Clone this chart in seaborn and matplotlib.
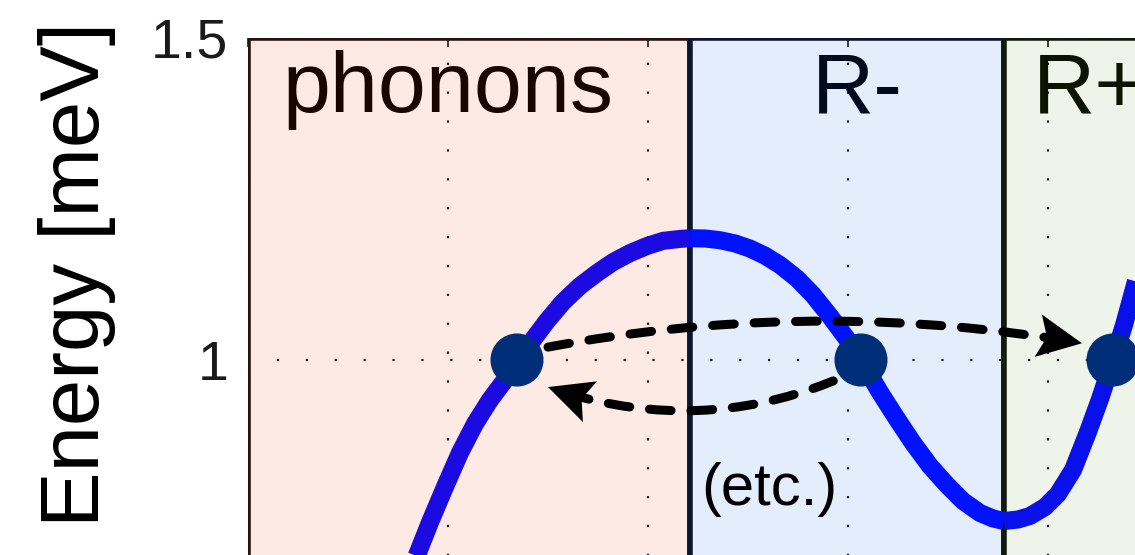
import numpy as np
import pandas as pd
import matplotlib
matplotlib.use("Agg")
import matplotlib.pyplot as plt
from matplotlib.patches import FancyArrowPatch, Polygon
from matplotlib.transforms import IdentityTransform
from matplotlib.ticker import FuncFormatter
import seaborn as sns

# Excitation branches: wavevector k [1/Å] and energy E [meV]
phonon_k = [0.3925, 0.4225, 0.455, 0.4925, 0.53, 0.5675, 0.605, 0.64, 0.6725, 0.71, 0.7475,
            0.7875, 0.83, 0.8725, 0.9125, 0.955, 0.9975, 1.0375, 1.08, 1.105]
phonon_E = [0.649, 0.697, 0.748, 0.803, 0.856, 0.901, 0.938, 0.967, 1.0, 1.0295, 1.0606,
            1.090, 1.115, 1.135, 1.152, 1.166, 1.177, 1.185, 1.188, 1.189]
rminus_k = [1.105, 1.1425, 1.18, 1.2175, 1.255, 1.2925, 1.33, 1.3725, 1.4125, 1.455, 1.4975,
            1.5325, 1.58, 1.6225, 1.6625, 1.705, 1.7475, 1.7875, 1.83, 1.8625, 1.89]
rminus_E = [1.189, 1.1887, 1.186, 1.181, 1.173, 1.162, 1.1475, 1.1266, 1.101, 1.068, 1.0326,
            1.0, 0.9497, 0.9084, 0.8711, 0.8354, 0.8059, 0.781, 0.7624, 0.7539, 0.750]
rplus_k = [1.89, 1.925, 1.955, 1.9925, 2.025, 2.0625, 2.1, 2.13, 2.1625, 2.19, 2.2175, 2.2425]
rplus_E = [0.750, 0.7523, 0.7578, 0.7717, 0.7919, 0.8292, 0.8882, 0.9394, 1.0, 1.0543,
           1.1165, 1.171]

# three excitations with the same energy
state_k = [0.6725, 1.5325, 2.1625]
state_E = [1.0, 1.0, 1.0]

region_names = ["phonons", "R-", "R+"]
region_bounds = [0.0, 1.105, 1.89, 2.5]

x_ticks = [0, 0.5, 1, 1.5, 2, 2.5]
y_ticks = [0, 0.5, 1, 1.5]

face_colors = ["#fdeae4", "#e4edfb", "#eff4ea"]
edge_colors = ["#2b1208", "#0b1530", "#111a0c"]
label_colors = ["#1a0600", "#000a1c", "#0a1400"]
line_colors = ["#1c0ae2", "#0012ff", "#0a10ea"]
dot_color = "#002e78"

sns.set_theme(style="white")
plt.rcParams["font.family"] = ["Liberation Sans", "DejaVu Sans"]

W, H, DPI = 1135, 555, 100
fig = plt.figure(figsize=(W / DPI, H / DPI), dpi=DPI)

# axes box in pixels: left edge, top edge, scale per unit on each axis
left_px, top_px = 248, 38
xpx, ypx = 400, 644
xlim = (0.0, 2.5)
ylim = (0.0, 1.5)
w_px = xpx * (xlim[1] - xlim[0])
h_px = ypx * (ylim[1] - ylim[0])
ax = fig.add_axes([left_px / W, 1 - (top_px + h_px) / H, w_px / W, h_px / H])
ax.set_xlim(*xlim)
ax.set_ylim(*ylim)

for i, name in enumerate(region_names):
    ax.axvspan(region_bounds[i], region_bounds[i + 1], facecolor=face_colors[i],
               edgecolor=edge_colors[i], lw=4.0, zorder=0.8)

ax.set_axisbelow("line")
ax.grid(True, color="k", linestyle=(0, (1, 12)), lw=1.6)
ax.set_xticks(x_ticks)
ax.set_yticks(y_ticks)
ax.yaxis.set_major_formatter(FuncFormatter(lambda v, _: f"{v:g}"))
ax.tick_params(direction="in", length=6.5, width=1.2, top=True, right=True,
               labelsize=40, pad=14, colors="k")
for s in ax.spines.values():
    s.set_visible(False)

curve = pd.DataFrame({
    "k": phonon_k + rminus_k + rplus_k,
    "E": phonon_E + rminus_E + rplus_E,
    "branch": [region_names[0]] * len(phonon_k) + [region_names[1]] * len(rminus_k)
              + [region_names[2]] * len(rplus_k),
})
sns.lineplot(data=curve, x="k", y="E", hue="branch", hue_order=region_names,
             palette=dict(zip(region_names, line_colors)), linewidth=13,
             estimator=None, sort=False, legend=False, ax=ax, zorder=3,
             solid_capstyle="butt", solid_joinstyle="round")

sns.scatterplot(x=state_k, y=state_E, s=38.2 ** 2, color=dot_color, edgecolor="none",
                linewidth=0, legend=False, ax=ax, zorder=5)

pt = fig.dpi / 72.0


def dashed_arrow(A, B, rad, offset):
    head_len, head_w = 32.0, 15.5
    ax.add_patch(FancyArrowPatch(A, B, connectionstyle=f"arc3,rad={rad}", arrowstyle="-",
                                 shrinkA=0, shrinkB=0.8 * head_len, lw=6.5, color="black",
                                 linestyle=(offset, (2.4, 2.2)), zorder=4))
    pA, pB = ax.transData.transform([A, B])
    d = pB - pA
    c = (pA + pB) / 2 + rad * np.array([d[1], -d[0]])
    u = (pB - c) / np.linalg.norm(pB - c)
    n = np.array([-u[1], u[0]])
    L, Wd = head_len * pt, head_w * pt
    pts = [pB, pB - L * u + Wd * n, pB - 0.8 * L * u, pB - L * u - Wd * n]
    ax.add_patch(Polygon(pts, closed=True, facecolor="black", edgecolor="none",
                         transform=IdentityTransform(), zorder=4.5))


# phonon -> R+ and R- -> phonon transitions
dashed_arrow((0.75, 1.020), (2.085, 1.026), -0.09, 0.0)
dashed_arrow((1.4925, 0.975), (0.75, 0.958), -0.195, 3.2)

ax.text(0.085, 1.385, region_names[0], fontsize=62, color=label_colors[0], ha="left", va="baseline")
ax.text(1.5225, 1.384, region_names[1], fontsize=62, color=label_colors[1], ha="center", va="baseline")
ax.text(1.9625, 1.384, region_names[2], fontsize=62, color=label_colors[2], ha="left", va="baseline")
ax.text(1.132, 0.775, "(etc.)", fontsize=43, color="black", ha="left", va="baseline", zorder=6)

ax.set_xlabel("")
ax.set_ylabel("Energy [meV]", fontsize=60, color="black")
ax.yaxis.set_label_coords(-0.132, 0.755)

fig.savefig("out.png", dpi=DPI)
